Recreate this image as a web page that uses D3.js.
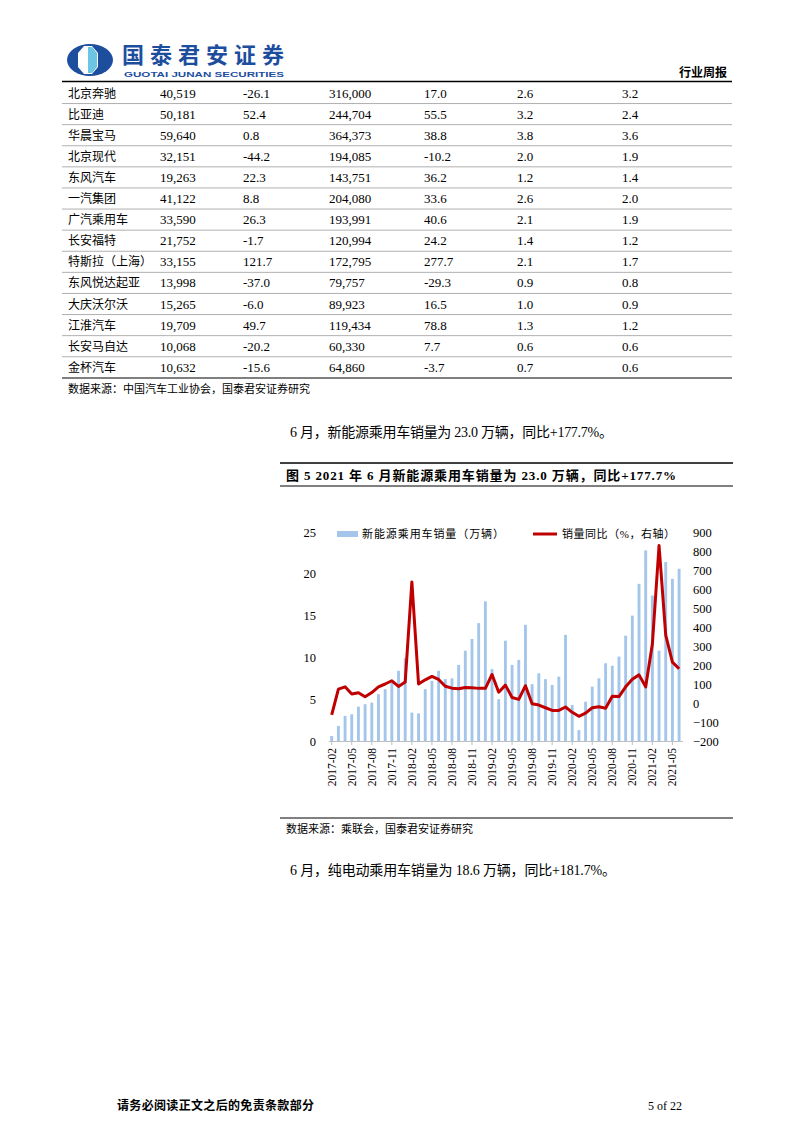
<!DOCTYPE html>
<html>
<head>
<meta charset="utf-8">
<script src="https://cdn.jsdelivr.net/npm/d3@7"></script>
<style>
  body { margin: 0; background: #fff; }
  svg { display: block; }
  .serif { font-family: "Liberation Serif", "Noto Sans CJK SC", serif; }
  .cjk { font-family: "Liberation Serif", "Noto Sans CJK SC", sans-serif; }
</style>
</head>
<body>
<div id="page"></div>
<script>
// table rows (carried over from previous page)
var brandNames = ["北京奔驰", "比亚迪", "华晨宝马", "北京现代", "东风汽车", "一汽集团", "广汽乘用车",
  "长安福特", "特斯拉（上海）", "东风悦达起亚", "大庆沃尔沃", "江淮汽车", "长安马自达", "金杯汽车"];
var juneSales = ["40,519", "50,181", "59,640", "32,151", "19,263", "41,122", "33,590",
  "21,752", "33,155", "13,998", "15,265", "19,709", "10,068", "10,632"];
var juneYoy = ["-26.1", "52.4", "0.8", "-44.2", "22.3", "8.8", "26.3",
  "-1.7", "121.7", "-37.0", "-6.0", "49.7", "-20.2", "-15.6"];
var ytdSales = ["316,000", "244,704", "364,373", "194,085", "143,751", "204,080", "193,991",
  "120,994", "172,795", "79,757", "89,923", "119,434", "60,330", "64,860"];
var ytdYoy = ["17.0", "55.5", "38.8", "-10.2", "36.2", "33.6", "40.6",
  "24.2", "277.7", "-29.3", "16.5", "78.8", "7.7", "-3.7"];
var juneShare = ["2.6", "3.2", "3.8", "2.0", "1.2", "2.6", "2.1",
  "1.4", "2.1", "0.9", "1.0", "1.3", "0.6", "0.7"];
var ytdShare = ["3.2", "2.4", "3.6", "1.9", "1.4", "2.0", "1.9",
  "1.2", "1.7", "0.8", "0.9", "1.2", "0.6", "0.6"];

// chart data
var months = ["2017-02", "2017-03", "2017-04", "2017-05", "2017-06", "2017-07", "2017-08", "2017-09", "2017-10", "2017-11", "2017-12",
  "2018-01", "2018-02", "2018-03", "2018-04", "2018-05", "2018-06", "2018-07", "2018-08", "2018-09", "2018-10", "2018-11", "2018-12",
  "2019-01", "2019-02", "2019-03", "2019-04", "2019-05", "2019-06", "2019-07", "2019-08", "2019-09", "2019-10", "2019-11", "2019-12",
  "2020-01", "2020-02", "2020-03", "2020-04", "2020-05", "2020-06", "2020-07", "2020-08", "2020-09", "2020-10", "2020-11", "2020-12",
  "2021-01", "2021-02", "2021-03", "2021-04", "2021-05", "2021-06"];
var nevSales = [0.6, 1.8, 3.0, 3.2, 4.1, 4.4, 4.6, 5.6, 6.2, 7.0, 8.4,
  9.9, 3.4, 3.3, 6.2, 7.2, 8.4, 7.4, 7.5, 9.1, 10.8, 12.2, 14.1,
  16.7, 8.6, 5.0, 12.0, 9.1, 9.7, 13.9, 6.8, 8.1, 7.4, 6.7, 7.7,
  12.7, 4.3, 1.3, 4.7, 6.5, 7.5, 9.3, 9.0, 10.1, 12.6, 15.0, 18.8,
  22.8, 17.4, 10.8, 21.4, 19.4, 20.6];
var nevYoy = [-63, 73, 85, 47, 54, 33, 55, 85, 100, 117, 87,
  110, 637, 100, 122, 140, 124, 88, 78, 75, 82, 80, 77,
  77, 150, 57, 94, 29, 19, 91, -4, -11, -25, -39, -39,
  -21, -49, -70, -53, -25, -20, -28, 36, 34, 85, 125, 148,
  85, 310, 829, 357, 215, 180];
var leftTicks = [0, 5, 10, 15, 20, 25];
var rightTicks = [-200, -100, 0, 100, 200, 300, 400, 500, 600, 700, 800, 900];
var legendBar = "新能源乘用车销量（万辆）";
var legendLine = "销量同比（%，右轴）";

var W = 793, H = 1122;
var blue = "#1d4e9e";
var svg = d3.select("#page").append("svg").attr("width", W).attr("height", H);

// ---- header ----
var logo = svg.append("g");
logo.append("ellipse").attr("cx", 90).attr("cy", 60).attr("rx", 23).attr("ry", 16).attr("fill", blue);
logo.append("path")
  .attr("d", "M84,46 L92,46 L98,53 L98,67 L92,74 L84,74 L78,67 L78,53 Z")
  .attr("fill", "#fff");
logo.append("path")
  .attr("d", "M88,47 L92,47 L97,53 L97,67 L92,73 L88,73 Z")
  .attr("fill", "#6cc5e2");
svg.append("text").attr("x", 122).attr("y", 63)
  .attr("class", "cjk").style("font-size", "22px").style("font-weight", "bold")
  .attr("fill", blue).attr("textLength", 162).attr("lengthAdjust", "spacing")
  .text("国泰君安证券");
svg.append("text").attr("x", 124).attr("y", 77)
  .style("font-family", "'Liberation Sans', sans-serif").style("font-size", "8px").style("font-weight", "bold")
  .attr("fill", blue).attr("textLength", 160).attr("lengthAdjust", "spacingAndGlyphs")
  .text("GUOTAI JUNAN SECURITIES");
svg.append("text").attr("x", 727).attr("y", 77).attr("text-anchor", "end")
  .attr("class", "cjk").style("font-size", "12px").style("font-weight", "bold")
  .text("行业周报");
svg.append("line").attr("x1", 62).attr("x2", 732).attr("y1", 81.5).attr("y2", 81.5)
  .attr("stroke", "#000").attr("stroke-width", 1.5);

// ---- table ----
var rowH = 21.1, row0 = 93;
var colX = [68, 160, 243, 329, 424, 517, 622];
var cols = [brandNames, juneSales, juneYoy, ytdSales, ytdYoy, juneShare, ytdShare];
var table = svg.append("g");
brandNames.forEach(function(d, i) {
  var cy = row0 + i * rowH;
  cols.forEach(function(col, j) {
    table.append("text").attr("x", colX[j]).attr("y", cy + 4.5)
      .attr("class", "cjk").style("font-size", j == 0 ? "12px" : "13px")
      .text(col[i]);
  });
  if (i < brandNames.length - 1)
    table.append("line").attr("x1", 62).attr("x2", 732)
      .attr("y1", cy + rowH / 2).attr("y2", cy + rowH / 2)
      .attr("stroke", "#b0b0b0").attr("stroke-width", 1);
});
table.append("line").attr("x1", 62).attr("x2", 732).attr("y1", 378).attr("y2", 378)
  .attr("stroke", "#000").attr("stroke-width", 1.2);
svg.append("text").attr("x", 68).attr("y", 393).attr("class", "cjk").style("font-size", "11px")
  .text("数据来源：中国汽车工业协会，国泰君安证券研究");

// ---- text paragraphs ----
svg.append("text").attr("x", 290).attr("y", 437).attr("class", "cjk").style("font-size", "14px")
  .attr("textLength", 323).attr("lengthAdjust", "spacing")
  .text("6 月，新能源乘用车销量为 23.0 万辆，同比+177.7%。");

svg.append("line").attr("x1", 280).attr("x2", 733).attr("y1", 463).attr("y2", 463)
  .attr("stroke", "#000").attr("stroke-width", 1.5);
svg.append("text").attr("x", 286).attr("y", 480).attr("class", "cjk")
  .style("font-size", "13px").style("font-weight", "bold")
  .attr("textLength", 390).attr("lengthAdjust", "spacing")
  .text("图 5 2021 年 6 月新能源乘用车销量为 23.0 万辆，同比+177.7%");
svg.append("line").attr("x1", 280).attr("x2", 733).attr("y1", 486).attr("y2", 486)
  .attr("stroke", "#000").attr("stroke-width", 1);

// ---- chart ----
var x = d3.scaleBand().domain(months).range([328.4, 682.4]).paddingInner(0.57).paddingOuter(0.28);
var yL = d3.scaleLinear().domain([0, 25]).range([741, 532]);
var yR = d3.scaleLinear().domain([-200, 900]).range([741, 532]);
var chart = svg.append("g");

chart.selectAll(".bar").data(nevSales).enter().append("rect")
  .attr("class", "bar")
  .attr("x", function(d, i) { return x(months[i]); })
  .attr("width", x.bandwidth())
  .attr("y", function(d) { return yL(d); })
  .attr("height", function(d) { return yL(0) - yL(d); })
  .attr("fill", "#a3c6ea");

// x axis
var xAxis = chart.append("g").attr("transform", "translate(0," + yL(0) + ")")
  .call(d3.axisBottom(x)
    .tickValues(months.filter(function(d, i) { return i % 3 == 0; }))
    .tickSize(4).tickSizeOuter(0));
xAxis.select(".domain").attr("stroke", "#bfbfbf");
xAxis.selectAll(".tick line").attr("stroke", "#bfbfbf");
xAxis.selectAll(".tick text")
  .attr("class", "serif").style("font-size", "11.5px").attr("fill", "#000")
  .attr("text-anchor", "end").attr("transform", "rotate(-90)")
  .attr("x", -7).attr("y", 0).attr("dy", "0.35em");

// left axis
var left = chart.append("g").attr("transform", "translate(318,0)")
  .call(d3.axisLeft(yL).tickValues(leftTicks).tickSize(0).tickPadding(2));
left.select(".domain").remove();
left.selectAll("text").attr("class", "serif").style("font-size", "12.5px").attr("fill", "#000");

// right axis
var right = chart.append("g").attr("transform", "translate(691,0)")
  .call(d3.axisRight(yR).tickValues(rightTicks).tickSize(0).tickPadding(2));
right.select(".domain").remove();
right.selectAll("text").attr("class", "serif").style("font-size", "12.5px").attr("fill", "#000");

// yoy line
var line = d3.line()
  .x(function(d, i) { return x(months[i]) + x.bandwidth() / 2; })
  .y(function(d) { return yR(d); });
chart.append("path").attr("d", line(nevYoy))
  .attr("fill", "none").attr("stroke", "#c00000").attr("stroke-width", 3)
  .attr("stroke-linejoin", "round");

// legend
var lg = chart.append("g");
lg.append("rect").attr("x", 337).attr("y", 531).attr("width", 21).attr("height", 6).attr("fill", "#a3c6ea");
lg.append("text").attr("x", 362).attr("y", 538).attr("class", "cjk").style("font-size", "11px")
  .attr("textLength", 142).attr("lengthAdjust", "spacing").text(legendBar);
lg.append("line").attr("x1", 533).attr("x2", 557).attr("y1", 534).attr("y2", 534)
  .attr("stroke", "#c00000").attr("stroke-width", 3);
lg.append("text").attr("x", 562).attr("y", 538).attr("class", "cjk").style("font-size", "11px")
  .attr("textLength", 113).attr("lengthAdjust", "spacing").text(legendLine);

// source
svg.append("line").attr("x1", 280).attr("x2", 733).attr("y1", 818).attr("y2", 818)
  .attr("stroke", "#000").attr("stroke-width", 1);
svg.append("text").attr("x", 286).attr("y", 833).attr("class", "cjk").style("font-size", "11px")
  .text("数据来源：乘联会，国泰君安证券研究");

svg.append("text").attr("x", 290).attr("y", 875).attr("class", "cjk").style("font-size", "14px")
  .attr("textLength", 326).attr("lengthAdjust", "spacing")
  .text("6 月，纯电动乘用车销量为 18.6 万辆，同比+181.7%。");

// footer
svg.append("text").attr("x", 117).attr("y", 1110).attr("class", "cjk")
  .style("font-size", "12px").style("font-weight", "bold")
  .attr("textLength", 197).attr("lengthAdjust", "spacing")
  .text("请务必阅读正文之后的免责条款部分");
svg.append("text").attr("x", 648).attr("y", 1110).attr("class", "serif").style("font-size", "12px")
  .text("5 of 22");
</script>
</body>
</html>
